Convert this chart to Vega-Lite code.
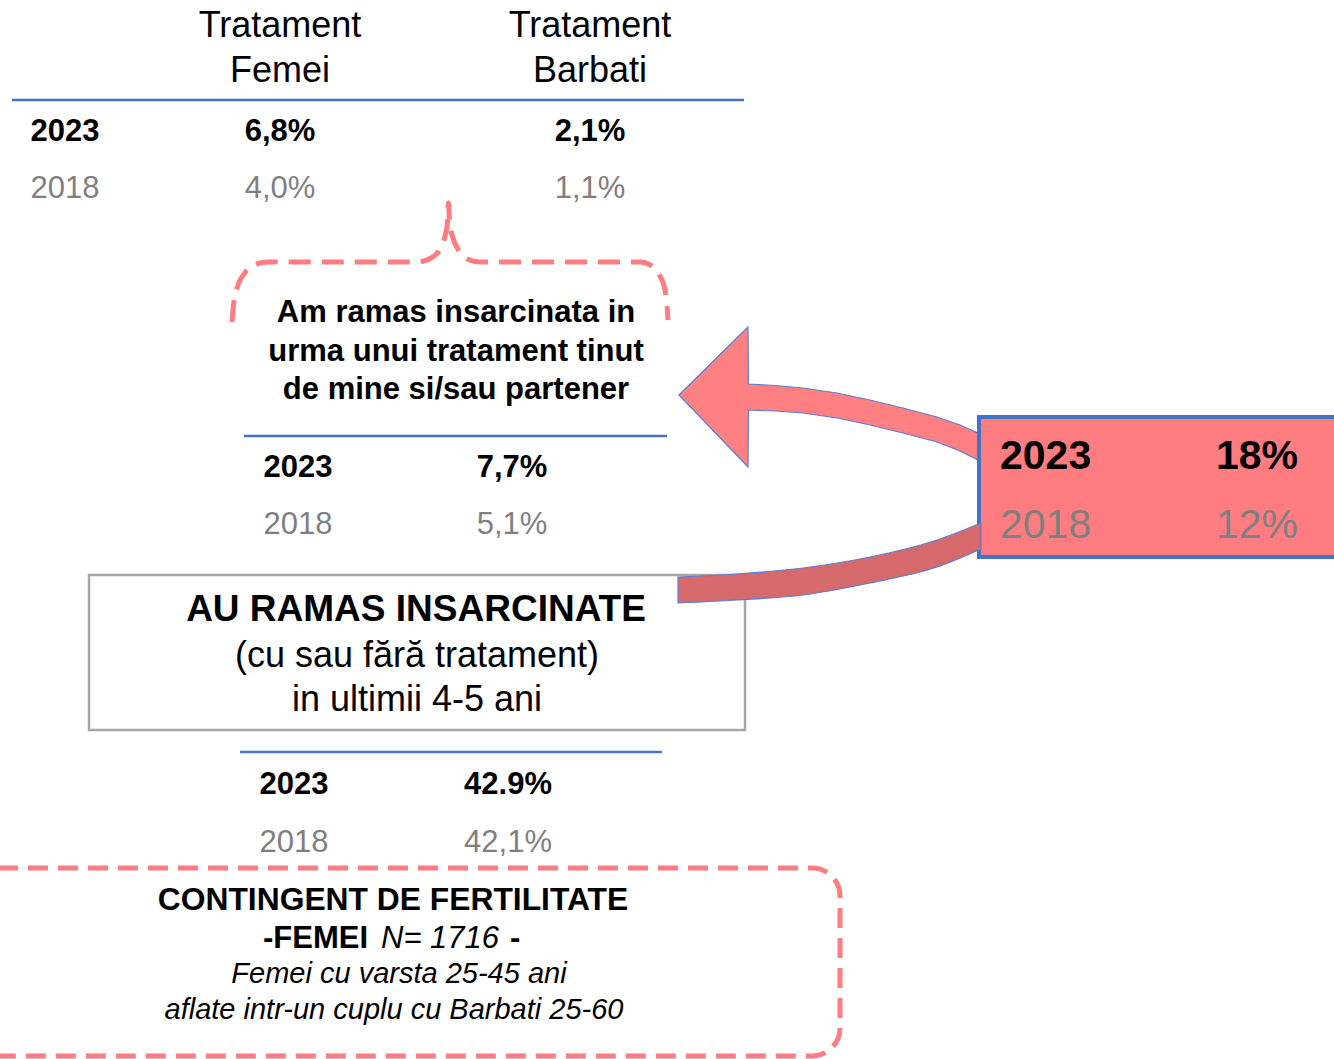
{
  "$schema": "https://vega.github.io/schema/vega-lite/v6.json",
  "width": 1334,
  "height": 1059,
  "padding": 0,
  "autosize": {"type": "none"},
  "background": "white",
  "config": {"view": {"stroke": null}, "text": {"font": "Liberation Sans", "baseline": "middle", "dy": 2}},
  "encoding": {
    "x": {"field": "x", "type": "quantitative", "scale": {"domain": [0, 1334], "nice": false, "zero": false}, "axis": null},
    "y": {"field": "y", "type": "quantitative", "scale": {"domain": [0, 1059], "nice": false, "zero": false, "reverse": true}, "axis": null}
  },
  "layer": [
    {
      "data": {"values": [
        {"i": 1, "x": 232, "y": 322}, {"i": 2, "x": 233.5, "y": 305}, {"i": 3, "x": 237, "y": 288},
        {"i": 4, "x": 244, "y": 274}, {"i": 5, "x": 254, "y": 265}, {"i": 6, "x": 268, "y": 262},
        {"i": 7, "x": 418, "y": 262}, {"i": 8, "x": 431, "y": 258}, {"i": 9, "x": 440, "y": 249},
        {"i": 10, "x": 445, "y": 236}, {"i": 11, "x": 447.5, "y": 222}, {"i": 12, "x": 448.5, "y": 203},
        {"i": 13, "x": 449.5, "y": 222}, {"i": 14, "x": 453, "y": 238}, {"i": 15, "x": 459, "y": 251},
        {"i": 16, "x": 467, "y": 259}, {"i": 17, "x": 480, "y": 262}, {"i": 18, "x": 640, "y": 262},
        {"i": 19, "x": 652, "y": 266}, {"i": 20, "x": 660, "y": 276}, {"i": 21, "x": 665, "y": 290},
        {"i": 22, "x": 667, "y": 305}, {"i": 23, "x": 668, "y": 320}
      ]},
      "mark": {"type": "line", "interpolate": "monotone", "color": "#FF7C80", "strokeWidth": 5, "strokeDash": [22, 11]},
      "encoding": {"order": {"field": "i", "type": "quantitative"}}
    },
    {
      "data": {"values": [
        {"x": 12, "x2": 744, "y": 100},
        {"x": 244, "x2": 667, "y": 436},
        {"x": 240, "x2": 662, "y": 752}
      ]},
      "mark": {"type": "rule", "color": "#4472C4", "strokeWidth": 2.5},
      "encoding": {"x2": {"field": "x2"}}
    },
    {
      "data": {"values": [
        {"x": 679, "y": 395, "y2": 395},
        {"x": 748, "y": 327, "y2": 467},
        {"x": 748.5, "y": 384, "y2": 410},
        {"x": 775, "y": 385.5, "y2": 411},
        {"x": 803, "y": 388, "y2": 413},
        {"x": 837, "y": 393, "y2": 418},
        {"x": 870, "y": 400, "y2": 425},
        {"x": 903, "y": 408, "y2": 433},
        {"x": 937, "y": 417, "y2": 442},
        {"x": 960, "y": 425, "y2": 451},
        {"x": 982, "y": 435, "y2": 462}
      ]},
      "mark": {"type": "area", "fill": "#FF8083", "stroke": "#5B7FD0", "strokeWidth": 1.2},
      "encoding": {"y2": {"field": "y2"}}
    },
    {
      "data": {"values": [
        {"x": 979, "x2": 1345, "y": 417, "y2": 557, "box": "right"}
      ]},
      "mark": {"type": "rect", "fill": "#FF7C80", "stroke": "#4472C4", "strokeWidth": 4},
      "encoding": {"x2": {"field": "x2"}, "y2": {"field": "y2"}}
    },
    {
      "data": {"values": [
        {"x": 89, "x2": 745, "y": 575, "y2": 730, "box": "au"}
      ]},
      "mark": {"type": "rect", "fill": "white", "stroke": "#A6A6A6", "strokeWidth": 2.5},
      "encoding": {"x2": {"field": "x2"}, "y2": {"field": "y2"}}
    },
    {
      "data": {"values": [
        {"x": 678, "y": 577, "y2": 603},
        {"x": 737, "y": 574, "y2": 600},
        {"x": 803, "y": 568, "y2": 595},
        {"x": 870, "y": 557, "y2": 583},
        {"x": 937, "y": 540, "y2": 567},
        {"x": 981, "y": 523, "y2": 549}
      ]},
      "mark": {"type": "area", "interpolate": "monotone", "fill": "#D5696C", "stroke": "#5B7FD0", "strokeWidth": 1.2},
      "encoding": {"y2": {"field": "y2"}}
    },
    {
      "data": {"values": [
        {"x": -30, "x2": 840, "y": 868, "y2": 1056, "box": "contingent"}
      ]},
      "mark": {"type": "rect", "fill": null, "fillOpacity": 0, "stroke": "#FF7C80", "strokeWidth": 5, "strokeDash": [20, 10], "cornerRadius": 28},
      "encoding": {"x2": {"field": "x2"}, "y2": {"field": "y2"}}
    },
    {
      "data": {"values": [
        {"x": 280, "y": 24, "t": "Tratament"}, {"x": 280, "y": 69, "t": "Femei"},
        {"x": 590, "y": 24, "t": "Tratament"}, {"x": 590, "y": 69, "t": "Barbati"},
        {"x": 417, "y": 654, "t": "(cu sau fără tratament)"}, {"x": 417, "y": 698, "t": "in ultimii 4-5 ani"}
      ]},
      "mark": {"type": "text", "fontSize": 36, "color": "black", "align": "center"},
      "encoding": {"text": {"field": "t"}}
    },
    {
      "data": {"values": [
        {"x": 65, "y": 130, "t": "2023"}, {"x": 280, "y": 130, "t": "6,8%"}, {"x": 590, "y": 130, "t": "2,1%"},
        {"x": 456, "y": 311, "t": "Am ramas insarcinata in"},
        {"x": 456, "y": 350, "t": "urma unui tratament tinut"},
        {"x": 456, "y": 388, "t": "de mine si/sau partener"},
        {"x": 298, "y": 466, "t": "2023"}, {"x": 512, "y": 466, "t": "7,7%"},
        {"x": 294, "y": 783, "t": "2023"}, {"x": 508, "y": 783, "t": "42.9%"}
      ]},
      "mark": {"type": "text", "fontSize": 31, "fontWeight": "bold", "color": "black", "align": "center"},
      "encoding": {"text": {"field": "t"}}
    },
    {
      "data": {"values": [
        {"x": 393, "y": 898, "t": "CONTINGENT DE FERTILITATE"}
      ]},
      "mark": {"type": "text", "fontSize": 31.8, "fontWeight": "bold", "color": "black", "align": "center"},
      "encoding": {"text": {"field": "t"}}
    },
    {
      "data": {"values": [
        {"x": 65, "y": 187, "t": "2018"}, {"x": 280, "y": 187, "t": "4,0%"}, {"x": 590, "y": 187, "t": "1,1%"},
        {"x": 298, "y": 523, "t": "2018"}, {"x": 512, "y": 523, "t": "5,1%"},
        {"x": 294, "y": 841, "t": "2018"}, {"x": 508, "y": 841, "t": "42,1%"}
      ]},
      "mark": {"type": "text", "fontSize": 31, "color": "#7F7F7F", "align": "center"},
      "encoding": {"text": {"field": "t"}}
    },
    {
      "data": {"values": [
        {"x": 1000, "y": 455, "t": "2023"}, {"x": 1216, "y": 455, "t": "18%"}
      ]},
      "mark": {"type": "text", "fontSize": 41, "fontWeight": "bold", "color": "black", "align": "left"},
      "encoding": {"text": {"field": "t"}}
    },
    {
      "data": {"values": [
        {"x": 1000, "y": 524, "t": "2018"}, {"x": 1216, "y": 524, "t": "12%"}
      ]},
      "mark": {"type": "text", "fontSize": 41, "color": "#7F7F7F", "align": "left"},
      "encoding": {"text": {"field": "t"}}
    },
    {
      "data": {"values": [
        {"x": 416, "y": 608, "t": "AU RAMAS INSARCINATE"}
      ]},
      "mark": {"type": "text", "fontSize": 37, "fontWeight": "bold", "color": "black", "align": "center"},
      "encoding": {"text": {"field": "t"}}
    },
    {
      "data": {"values": [
        {"x": 399, "y": 972, "t": "Femei cu varsta 25-45 ani"},
        {"x": 394, "y": 1008, "t": "aflate intr-un cuplu cu Barbati 25-60"}
      ]},
      "mark": {"type": "text", "fontSize": 29, "fontStyle": "italic", "color": "black", "align": "center"},
      "encoding": {"text": {"field": "t"}}
    },
    {
      "data": {"values": [
        {"x": 263, "y": 937, "t": "-FEMEI"}, {"x": 510, "y": 937, "t": "-"}
      ]},
      "mark": {"type": "text", "fontSize": 31, "fontWeight": "bold", "color": "black", "align": "left"},
      "encoding": {"text": {"field": "t"}}
    },
    {
      "data": {"values": [
        {"x": 381, "y": 937, "t": "N= 1716"}
      ]},
      "mark": {"type": "text", "fontSize": 31, "fontStyle": "italic", "color": "black", "align": "left"},
      "encoding": {"text": {"field": "t"}}
    }
  ]
}
